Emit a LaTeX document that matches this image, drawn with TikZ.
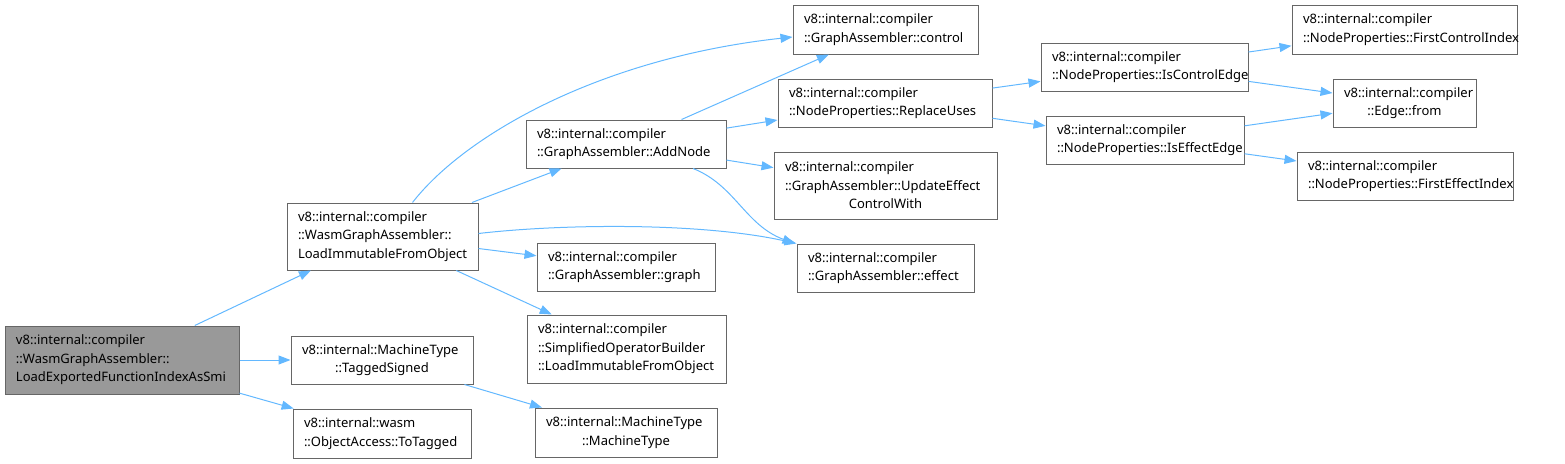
\documentclass[tikz,border=0pt]{standalone}
\usepackage{fontspec}
\setmainfont{Noto Sans}
\usetikzlibrary{arrows.meta, calc, positioning}
\definecolor{callblue}{HTML}{63B8FF}
\definecolor{boxgray}{HTML}{666666}
\definecolor{rootgray}{HTML}{999999}

\begin{document}
\begin{tikzpicture}[
    x=1pt, y=-1pt,
    >={Triangle[length=12pt, width=9pt]},
    every node/.style={font=\fontsize{13}{18.5}\selectfont, text=black},
  ]

  % Canvas
  \useasboundingbox (0,0) rectangle (1565,463);

  % --- Styles ---
  \tikzset{
    fnbox/.style={rectangle, draw=boxgray, fill=white, line width=1pt,
                  inner xsep=11pt, inner ysep=0pt, align=left},
    rootbox/.style={fnbox, fill=rootgray},
    calls/.style={->, callblue, line width=1pt},
  }

  % --- Caller (left) ---
  \node[rootbox, text width=212pt, minimum height=68pt] (root) at (122,360)
    {v8::internal::compiler\\::WasmGraphAssembler::\\LoadExportedFunctionIndexAsSmi};

  % --- First level ---
  \node[fnbox, text width=169pt, minimum height=67pt] (wga) at (382.5,236.5)
    {v8::internal::compiler\\::WasmGraphAssembler::\\LoadImmutableFromObject};
  \node[fnbox, text width=160pt, minimum height=48pt] (tagged) at (382,360)
    {v8::internal::MachineType\\\hspace*{\fill}::TaggedSigned\hspace*{\fill}};
  \node[fnbox, text width=156pt, minimum height=49pt] (totagged) at (382,433.5)
    {v8::internal::wasm\\::ObjectAccess::ToTagged};

  % --- Second level ---
  \node[fnbox, text width=178pt, minimum height=48pt] (addnode) at (626,144)
    {v8::internal::compiler\\::GraphAssembler::AddNode};
  \node[fnbox, text width=156pt, minimum height=48pt] (graph) at (626,267)
    {v8::internal::compiler\\::GraphAssembler::graph};
  \node[fnbox, text width=177pt, minimum height=68pt] (sob) at (626.5,349)
    {v8::internal::compiler\\::SimplifiedOperatorBuilder\\::LoadImmutableFromObject};
  \node[fnbox, text width=160pt, minimum height=49pt] (mtype) at (626,432.5)
    {v8::internal::MachineType\\\hspace*{\fill}::MachineType\hspace*{\fill}};

  % --- Third level ---
  \node[fnbox, text width=163pt, minimum height=49pt] (control) at (885.5,29.5)
    {v8::internal::compiler\\::GraphAssembler::control};
  \node[fnbox, text width=192pt, minimum height=48pt] (replace) at (885,103)
    {v8::internal::compiler\\::NodeProperties::ReplaceUses};
  \node[fnbox, text width=201pt, minimum height=67pt] (update) at (885.5,185.5)
    {v8::internal::compiler\\::GraphAssembler::UpdateEffect\\\hspace*{\fill}ControlWith\hspace*{\fill}};
  \node[fnbox, text width=155pt, minimum height=48pt] (effect) at (885.5,268)
    {v8::internal::compiler\\::GraphAssembler::effect};

  % --- Fourth level ---
  \node[fnbox, text width=185pt, minimum height=48pt] (isctrl) at (1144.5,67)
    {v8::internal::compiler\\::NodeProperties::IsControlEdge};
  \node[fnbox, text width=176pt, minimum height=48pt] (iseff) at (1145,140)
    {v8::internal::compiler\\::NodeProperties::IsEffectEdge};

  % --- Fifth level ---
  \node[fnbox, text width=203pt, minimum height=49pt] (fci) at (1404.5,29.5)
    {v8::internal::compiler\\::NodeProperties::FirstControlIndex};
  \node[fnbox, text width=121pt, minimum height=48pt] (from) at (1404.5,103)
    {v8::internal::compiler\\\hspace*{\fill}::Edge::from\hspace*{\fill}};
  \node[fnbox, text width=194pt, minimum height=48pt] (fei) at (1405,176)
    {v8::internal::compiler\\::NodeProperties::FirstEffectIndex};

  % --- Calls from the root ---
  \draw[calls] (root) -- (wga);
  \draw[calls] (root) -- (tagged);
  \draw[calls] (root) -- (totagged);

  % --- Calls from LoadImmutableFromObject ---
  \draw[calls] ([xshift=30pt]wga.north)
    .. controls (465,135) and (600,58) .. ([yshift=-7.5pt]control.west);
  \draw[calls] (wga) -- (addnode);
  \draw[calls] ([yshift=3pt]wga.east)
    .. controls (560,224) and (700,222) .. (effect.north west);
  \draw[calls] (wga) -- (graph);
  \draw[calls] (wga) -- (sob);
  \draw[calls] (tagged) -- (mtype);

  % --- Calls from AddNode ---
  \draw[calls] (addnode) -- (control);
  \draw[calls] (addnode) -- (replace);
  \draw[calls] (addnode) -- (update);
  \draw[calls] ([xshift=67pt]addnode.south)
    .. controls (735,185) and (745,225) .. ([xshift=-2pt]effect.north west);

  % --- NodeProperties chain ---
  \draw[calls] (replace) -- (isctrl);
  \draw[calls] (replace) -- (iseff);
  \draw[calls] (isctrl) -- (fci);
  \draw[calls] (isctrl) -- (from);
  \draw[calls] (iseff) -- (from);
  \draw[calls] (iseff) -- (fei);

\end{tikzpicture}
\end{document}
